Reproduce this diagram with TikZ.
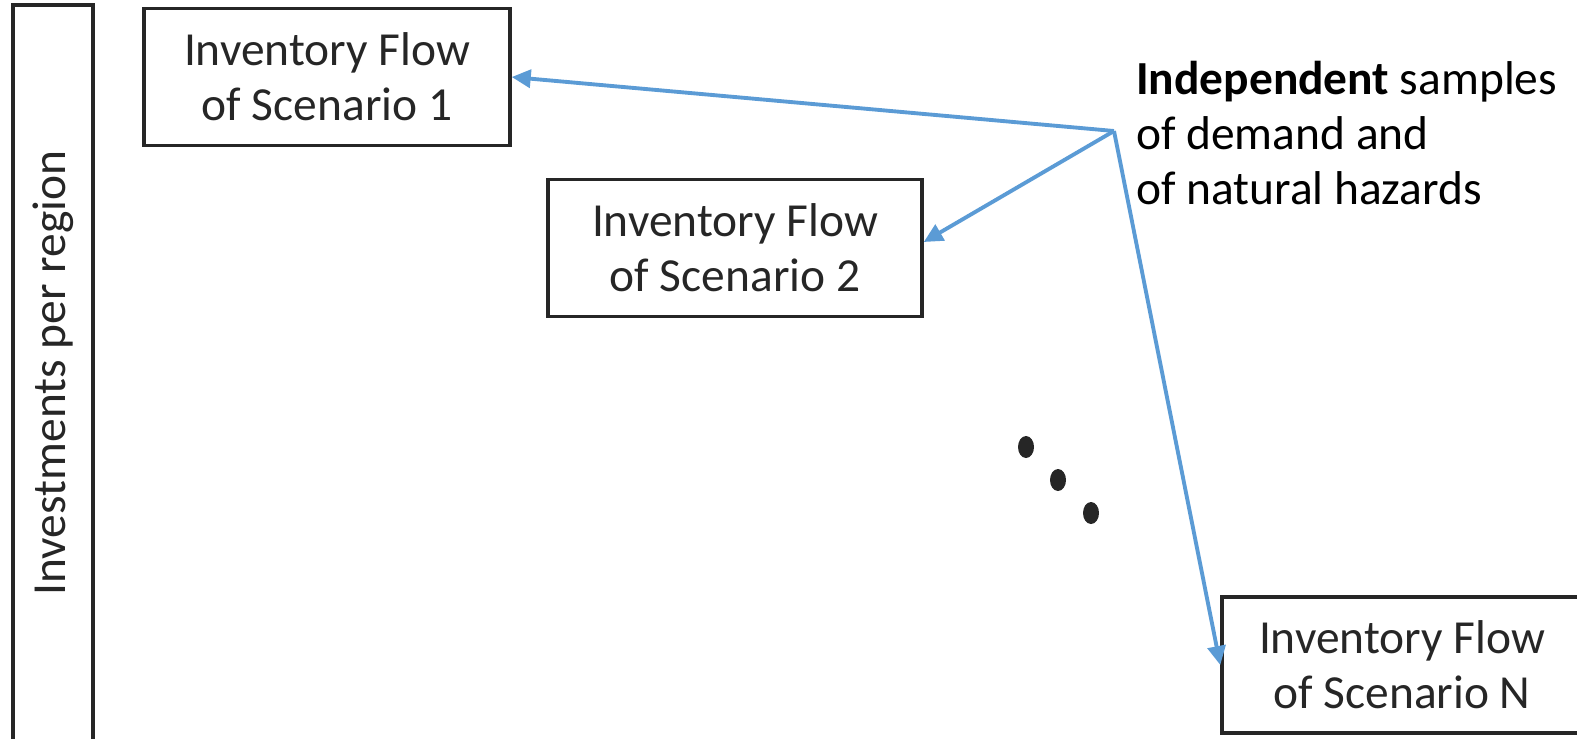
\documentclass[tikz,border=0pt]{standalone}
\usepackage{fontspec}
\setmainfont{Carlito}
\usetikzlibrary{positioning, arrows.meta}
\definecolor{flowblue}{HTML}{5B9BD5}
\definecolor{boxgray}{HTML}{262626}

\begin{document}
\begin{tikzpicture}[x=0.02cm, y=-0.02cm, font=\fontsize{27}{31.5}\selectfont]
    \useasboundingbox (0,0) rectangle (1577,738);
    % Define block styles
    \tikzstyle{block} = [rectangle, draw=boxgray, line width=2pt, text=boxgray, minimum height=2.74cm, align=center, inner sep=0pt]
    \tikzstyle{line} = [-{Triangle[length=0.38cm, width=0.36cm]}, flowblue, line width=2.2pt]
    % Blocks and nodes
    \node [block, minimum width=1.6cm, minimum height=14.8cm] (invest) at (53,375) {};
    \node [rotate=90, text=boxgray] (investtxt) at (53,373) {Investments per region};
    \node [block, minimum width=7.32cm] (scen1) at (327,77) {Inventory Flow\\of Scenario 1};
    \node [block, minimum width=7.48cm] (scen2) at (735,248) {Inventory Flow\\of Scenario 2};
    \node [block, minimum width=7.2cm, minimum height=2.72cm] (scenN) at (1402,665) {Inventory Flow\\of Scenario N};
    \node [anchor=west, align=left, text=black] (samples) at (1130,133) {\textbf{Independent} samples\\of demand and\\of natural hazards};
    \coordinate (src) at (1114,131);

    % Dots
    \foreach \px/\py in {1026/447, 1058/480, 1091/513}
        \fill[boxgray] (\px,\py) ellipse (0.16cm and 0.22cm);

    % Connections
    \draw[line] (src) -- (scen1.east);
    \draw[line] (src) -- ([yshift=0.12cm]scen2.east);
    \draw[line] (src) -- (scenN.west);

  \end{tikzpicture}
\end{document}
